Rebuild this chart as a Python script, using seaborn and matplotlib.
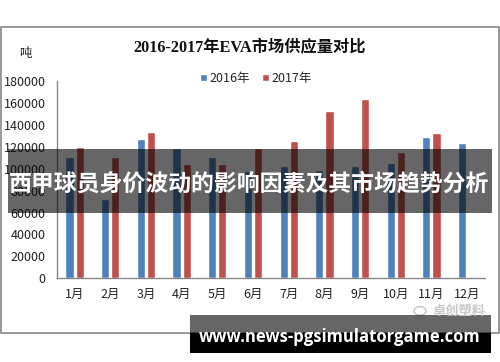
import matplotlib
matplotlib.use("Agg")
import matplotlib.pyplot as plt
from matplotlib.patches import Rectangle, Circle
import seaborn as sns
import pandas as pd
import numpy as np

months = ["1月", "2月", "3月", "4月", "5月", "6月", "7月", "8月", "9月", "10月", "11月", "12月"]
years = ["2016年", "2017年"]
supply_2016 = [110500, 72000, 127000, 119000, 110500, 97500, 102700, 98800, 102700, 105500, 128600, 123000]
supply_2017 = [119500, 110500, 133500, 104600, 104600, 119000, 125000, 152600, 163600, 115500, 132300, np.nan]
yticks = [0, 20000, 40000, 60000, 80000, 100000, 120000, 140000, 160000, 180000]

title_text = "2016-2017年EVA市场供应量对比"
unit_text = "吨"
banner_text = "西甲球员身价波动的影响因素及其市场趋势分析"
url_text = "www.news-pgsimulatorgame.com"
mark_text = "卓创塑料"

sns.set_style("white")
plt.rcParams['font.family'] = ['Noto Sans CJK SC', 'DejaVu Sans']

rows = []
for m, a, b in zip(months, supply_2016, supply_2017):
    rows.append({"month": m, "year": years[0], "value": a})
    rows.append({"month": m, "year": years[1], "value": b})
df = pd.DataFrame(rows).dropna()

W, H = 500, 362
fig = plt.figure(figsize=(W / 100, H / 100), dpi=100)
ax = fig.add_axes([56.7 / W, 1 - 278.3 / H, (485 - 56.7) / W, (278.3 - 81) / H])

sns.barplot(data=df, x="month", y="value", hue="year", order=months, hue_order=years,
            palette=["#4F81BD", "#C0504D"], width=0.57, gap=0.2, ax=ax, saturation=1,
            errorbar=None)

ax.set_ylim(0, 180000)
ax.set_xlim(-0.5, 11.5)
ax.set_yticks(yticks)
ax.set_yticklabels([str(v) for v in yticks], fontsize=9, color="#222222")
ax.set_xticks(range(len(months)))
ax.set_xticklabels(months, fontsize=9, color="#222222")
ax.tick_params(axis="x", length=0, pad=7)
ax.tick_params(axis="y", direction="in", length=4, width=0.8, color="#888888", pad=8)
# category boundary ticks on x axis
ax.set_xticks(np.arange(-0.5, 12, 1), minor=True)
ax.tick_params(axis="x", which="minor", direction="in", length=3, width=0.8, color="#888888")
ax.set_xlabel("")
ax.set_ylabel("")
for s in ["top", "right"]:
    ax.spines[s].set_visible(False)
for s in ["left", "bottom"]:
    ax.spines[s].set_color("#888888")
    ax.spines[s].set_linewidth(1)

handles, labels = ax.get_legend_handles_labels()
ax.legend(handles, labels, loc="center", bbox_to_anchor=(256 / W, 1 - 78.5 / H),
          bbox_transform=fig.transFigure, ncol=2, frameon=False, fontsize=9,
          handlelength=0.55, handleheight=0.55, handletextpad=0.25, columnspacing=0.9)

def fy(y):
    return 1 - y / H

# outer frame
fig.add_artist(Rectangle((0.8 / W, fy(333)), (498.5) / W, (333 - 27) / H, transform=fig.transFigure,
                         fill=False, edgecolor="#888888", linewidth=1.2))

fig.text(250 / W, fy(47), title_text, ha="center", va="center", fontsize=11.7, fontweight="bold",
         family=["Liberation Serif", "Noto Sans CJK SC"], color="#111111")
fig.text(25 / W, fy(53), unit_text, ha="center", va="center", fontsize=9, color="#222222")

# banner overlay
fig.add_artist(Rectangle((8 / W, fy(213)), (492 - 8) / W, (213 - 149) / H, transform=fig.transFigure,
                         facecolor="black", alpha=0.6, edgecolor="none"))
fig.text(249 / W, fy(184), banner_text, ha="center", va="center", fontsize=16.5, fontweight="bold",
         color="white")

# watermark
fig.add_artist(Circle((420 / W, fy(311)), 6 / W, transform=fig.transFigure, fill=False,
                      edgecolor="#cccccc", linewidth=1.2))
fig.text(459 / W, fy(311), mark_text, ha="center", va="center", fontsize=9.5, color="#c8c8c8",
         fontweight="bold")

# bottom url box
fig.add_artist(Rectangle((190 / W, fy(333)), (491 - 190) / W, (333 - 315) / H, transform=fig.transFigure,
                         facecolor="black", alpha=0.6, edgecolor="none"))
fig.add_artist(Rectangle((190 / W, fy(353)), (491 - 190) / W, (353 - 333) / H, transform=fig.transFigure,
                         facecolor="black", edgecolor="none"))
fig.text(340 / W, fy(337), url_text, ha="center", va="center", fontsize=12, fontweight="bold",
         color="white", family=["Open Sans", "DejaVu Sans"])

fig.savefig("out.png", dpi=100)
